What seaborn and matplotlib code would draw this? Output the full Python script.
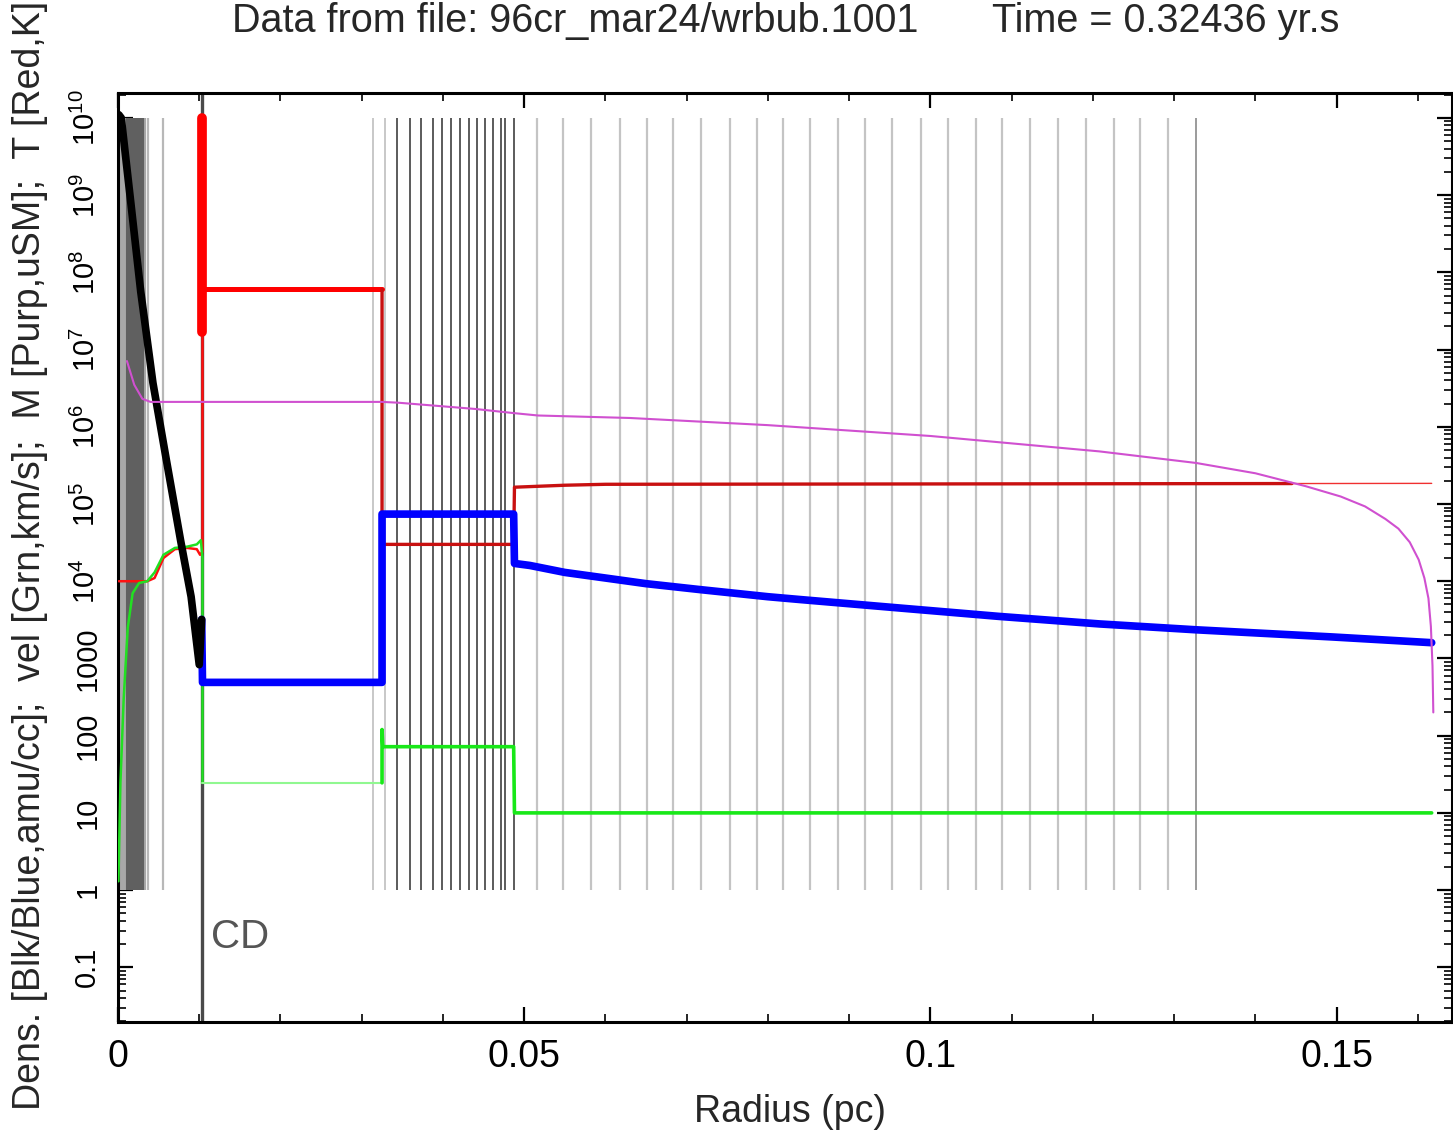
import matplotlib
matplotlib.use("Agg")
import matplotlib.pyplot as plt
import seaborn as sns
from matplotlib.ticker import FixedLocator, MultipleLocator, LogLocator, NullFormatter

sns.set_theme(style="ticks")
FONT = ["Liberation Sans", "DejaVu Sans"]
plt.rcParams["font.family"] = FONT
plt.rcParams["mathtext.fontset"] = "custom"
plt.rcParams["mathtext.rm"] = "Liberation Sans"
plt.rcParams["mathtext.it"] = "Liberation Sans"

# ---------------------------------------------------------------- data
# radius in pc
CD_RADIUS = 0.0104

# free-wind density (black)
r_wind_dens = [0.0001, 0.0004, 0.0016, 0.0028, 0.0043, 0.0059, 0.0077, 0.0090, 0.0100, 0.0103]
wind_dens = [1.1e10, 1.0e10, 7.6e8, 5.6e7, 3.7e6, 4.0e5, 3.4e4, 6.3e3, 8.3e2, 3.2e3]

# density outside the contact discontinuity (blue)
r_dens = [0.0103, 0.0104, 0.0325, 0.0325, 0.0487, 0.0488, 0.0507, 0.0550, 0.0600, 0.0650,
          0.0716, 0.0800, 0.0839, 0.0962, 0.1085, 0.1208, 0.1327, 0.1494, 0.1617]
dens = [3.2e3, 4.9e2, 4.9e2, 7.4e4, 7.4e4, 1.7e4, 1.6e4, 1.3e4, 1.1e4, 9.3e3,
        7.8e3, 6.3e3, 5.8e3, 4.5e3, 3.5e3, 2.8e3, 2.35e3, 1.9e3, 1.6e3]

# temperature (red)
r_temp_wind = [0.0001, 0.0036, 0.0045, 0.0056, 0.0070, 0.0085, 0.0097, 0.0101, 0.0104, 0.0104]
temp_wind = [1.0e4, 1.0e4, 1.1e4, 2.0e4, 2.6e4, 2.7e4, 2.6e4, 2.2e4, 2.4e4, 6.0e7]
r_temp_spike = [0.0104, 0.0104]
temp_spike = [1.0e10, 1.7e7]
r_temp_bubble = [0.0104, 0.0325]
temp_bubble = [6.0e7, 6.0e7]
r_temp_shell = [0.0325, 0.0325, 0.0487, 0.0488, 0.0550, 0.0600, 0.1445]
temp_shell = [6.0e7, 3.0e4, 3.0e4, 1.65e5, 1.75e5, 1.8e5, 1.84e5]
r_temp_edge = [0.1445, 0.1617]
temp_edge = [1.84e5, 1.85e5]

# velocity (green)
r_vel_wind = [0.00005, 0.0003, 0.0007, 0.0012, 0.0018, 0.0026, 0.0036, 0.0045, 0.0056,
              0.0070, 0.0085, 0.0097, 0.0102, 0.0104, 0.0104]
vel_wind = [1.3, 25, 300, 2.5e3, 7.0e3, 9.5e3, 1.0e4, 1.3e4, 2.2e4,
            2.7e4, 2.8e4, 3.0e4, 3.4e4, 2.0e4, 24.5]
r_vel_bubble = [0.0104, 0.0325]
vel_bubble = [24.5, 24.5]
r_vel_shell = [0.0325, 0.0325, 0.0326, 0.0487, 0.0488, 0.1617]
vel_shell = [24.5, 120, 72, 72, 10, 10]

# mass coordinate (purple)
r_mass = [0.0011, 0.0020, 0.0030, 0.0040, 0.0325, 0.0345, 0.0440, 0.0488, 0.0517, 0.0630,
          0.0800, 0.1000, 0.1208, 0.1327, 0.1400, 0.1462, 0.1505, 0.1535, 0.1560, 0.1576,
          0.1590, 0.1601, 0.1608, 0.1613, 0.1616, 0.1618, 0.1619]
mass = [7.1e6, 3.5e6, 2.3e6, 2.1e6, 2.1e6, 2.05e6, 1.7e6, 1.5e6, 1.4e6, 1.3e6,
        1.05e6, 7.6e5, 4.8e5, 3.4e5, 2.5e5, 1.7e5, 1.25e5, 9.3e4, 6.4e4, 4.8e4,
        3.2e4, 1.9e4, 1.1e4, 6.0e3, 2.6e3, 800, 200]

# grid-level boundaries (vertical markers)
grid_inner_dark = [0.0011, 0.0013, 0.0015, 0.0017, 0.0019, 0.0021, 0.0023, 0.0025,
                   0.0027, 0.0029, 0.0031]
grid_inner_mid = [0.0001, 0.0003, 0.0005, 0.0007, 0.0009, 0.0033]
grid_inner_light = [0.00375, 0.0056]
grid_shell_light = [0.0314, 0.0329]
grid_shell = [0.0344, 0.0359, 0.0373, 0.0388, 0.0399, 0.0410, 0.0421, 0.0432, 0.0442,
              0.0452, 0.0462, 0.0471, 0.0476, 0.0487]
grid_outer = [0.0516, 0.0548, 0.0582, 0.0618, 0.0651, 0.0683, 0.0718, 0.0753, 0.0787,
              0.0819, 0.0852, 0.0886, 0.0920, 0.0953, 0.0988, 0.1022, 0.1056, 0.1088,
              0.1123, 0.1157, 0.1191, 0.1226, 0.1258, 0.1292]
grid_last = [0.1327]

ytick_vals = [1e-1, 1e0, 1e1, 1e2, 1e3, 1e4, 1e5, 1e6, 1e7, 1e8, 1e9, 1e10]
ytick_labels = ["0.1", "1", "10", "100", "1000", "$10^{4}$", "$10^{5}$", "$10^{6}$",
                "$10^{7}$", "$10^{8}$", "$10^{9}$", "$10^{10}$"]
xtick_vals = [0, 0.05, 0.1, 0.15]
xtick_labels = ["0", "0.05", "0.1", "0.15"]

# ---------------------------------------------------------------- figure
W, H = 1453, 1136
fig = plt.figure(figsize=(W / 100, H / 100), dpi=100)
ax = fig.add_axes([118 / W, 1 - 1022 / H, (1452 - 118) / W, (1022 - 93) / H])
ax.set_yscale("log")
ax.set_xlim(0, 0.1642)
ax.set_ylim(0.0196, 2.1e10)
ax.set_facecolor("white")

# grid-level markers
ax.vlines(grid_inner_mid, 1, 1.0e10, colors="#a8a8a8", lw=1.6, zorder=1)
ax.vlines(grid_inner_dark, 1, 1.0e10, colors="#606060", lw=1.5, zorder=1)
ax.vlines(grid_inner_light, 1, 1.0e10, colors="#b8b8b8", lw=1.6, zorder=1)
ax.vlines(grid_shell_light, 1, 1.0e10, colors="#c8c8c8", lw=1.4, zorder=1)
ax.vlines(grid_shell, 1, 1.0e10, colors="#404040", lw=1.2, zorder=1)
ax.vlines(grid_outer, 1, 1.0e10, colors="#c4c4c4", lw=1.6, zorder=1)
ax.vlines(grid_last, 1, 1.0e10, colors="#8a8a8a", lw=1.2, zorder=1)

# contact discontinuity
ax.axvline(CD_RADIUS, color="#4a4a4a", lw=2.4, zorder=2)
ax.text(0.0114, 0.25, "CD", color="#555555", fontsize=29, va="center", ha="left")

def line(x, y, **kw):
    sns.lineplot(x=x, y=y, ax=ax, estimator=None, sort=False, legend=False, **kw)

line(r_temp_wind, temp_wind, color="#ff1010", lw=1.8, zorder=3)
line(r_temp_spike, temp_spike, color="#ff0000", lw=7, zorder=3, solid_capstyle="round")
line(r_temp_bubble, temp_bubble, color="#ff0000", lw=3.6, zorder=3)
line(r_temp_shell, temp_shell, color="#c81010", lw=2.4, zorder=3)
line(r_temp_edge, temp_edge, color="#f03030", lw=1.0, zorder=3)

line(r_vel_wind, vel_wind, color="#22e022", lw=1.8, zorder=4)
line(r_vel_bubble, vel_bubble, color="#90f890", lw=1.5, zorder=4)
line(r_vel_shell, vel_shell, color="#18e818", lw=2.6, zorder=4)

line(r_dens, dens, color="#0000ff", lw=5.5, zorder=5)
line(r_wind_dens, wind_dens, color="#000000", lw=5.5, zorder=5)

line(r_mass, mass, color="#d050d0", lw=1.5, zorder=6)

# axes styling
for s in ax.spines.values():
    s.set_linewidth(2.2)
    s.set_color("black")

ax.xaxis.set_major_locator(FixedLocator(xtick_vals))
ax.xaxis.set_minor_locator(MultipleLocator(0.01))
ax.set_xticklabels(xtick_labels)
ax.yaxis.set_major_locator(FixedLocator(ytick_vals))
ax.yaxis.set_minor_locator(LogLocator(base=10, subs=range(2, 10), numticks=40))
ax.yaxis.set_minor_formatter(NullFormatter())
ax.set_yticklabels(ytick_labels, rotation=90, va="center")

ax.tick_params(which="both", direction="in", top=True, right=True, colors="black")
ax.tick_params(which="major", length=11, width=1.6)
ax.tick_params(which="minor", length=6, width=1.2)
ax.tick_params(axis="x", which="major", labelsize=27, pad=12)
ax.tick_params(axis="y", which="major", labelsize=21, pad=12)
ax.set_xlabel("")
ax.set_ylabel("")
ax.grid(False)

fig.text(232 / W, 1 - 21 / H, "Data from file: 96cr_mar24/wrbub.1001",
         fontsize=28.5, ha="left", va="center")
fig.text(992 / W, 1 - 21 / H, "Time = 0.32436 yr.s", fontsize=28.5, ha="left", va="center")
fig.text(790 / W, 1 - 1112 / H, "Radius (pc)", fontsize=27, ha="center", va="center")
fig.text(30 / W, 1 - 555 / H,
         "Dens. [Blk/Blue,amu/cc];  vel [Grn,km/s];  M [Purp,uSM];  T [Red,K]",
         fontsize=27, ha="center", va="center", rotation=90)

fig.savefig("out.png", dpi=100, facecolor="white")
